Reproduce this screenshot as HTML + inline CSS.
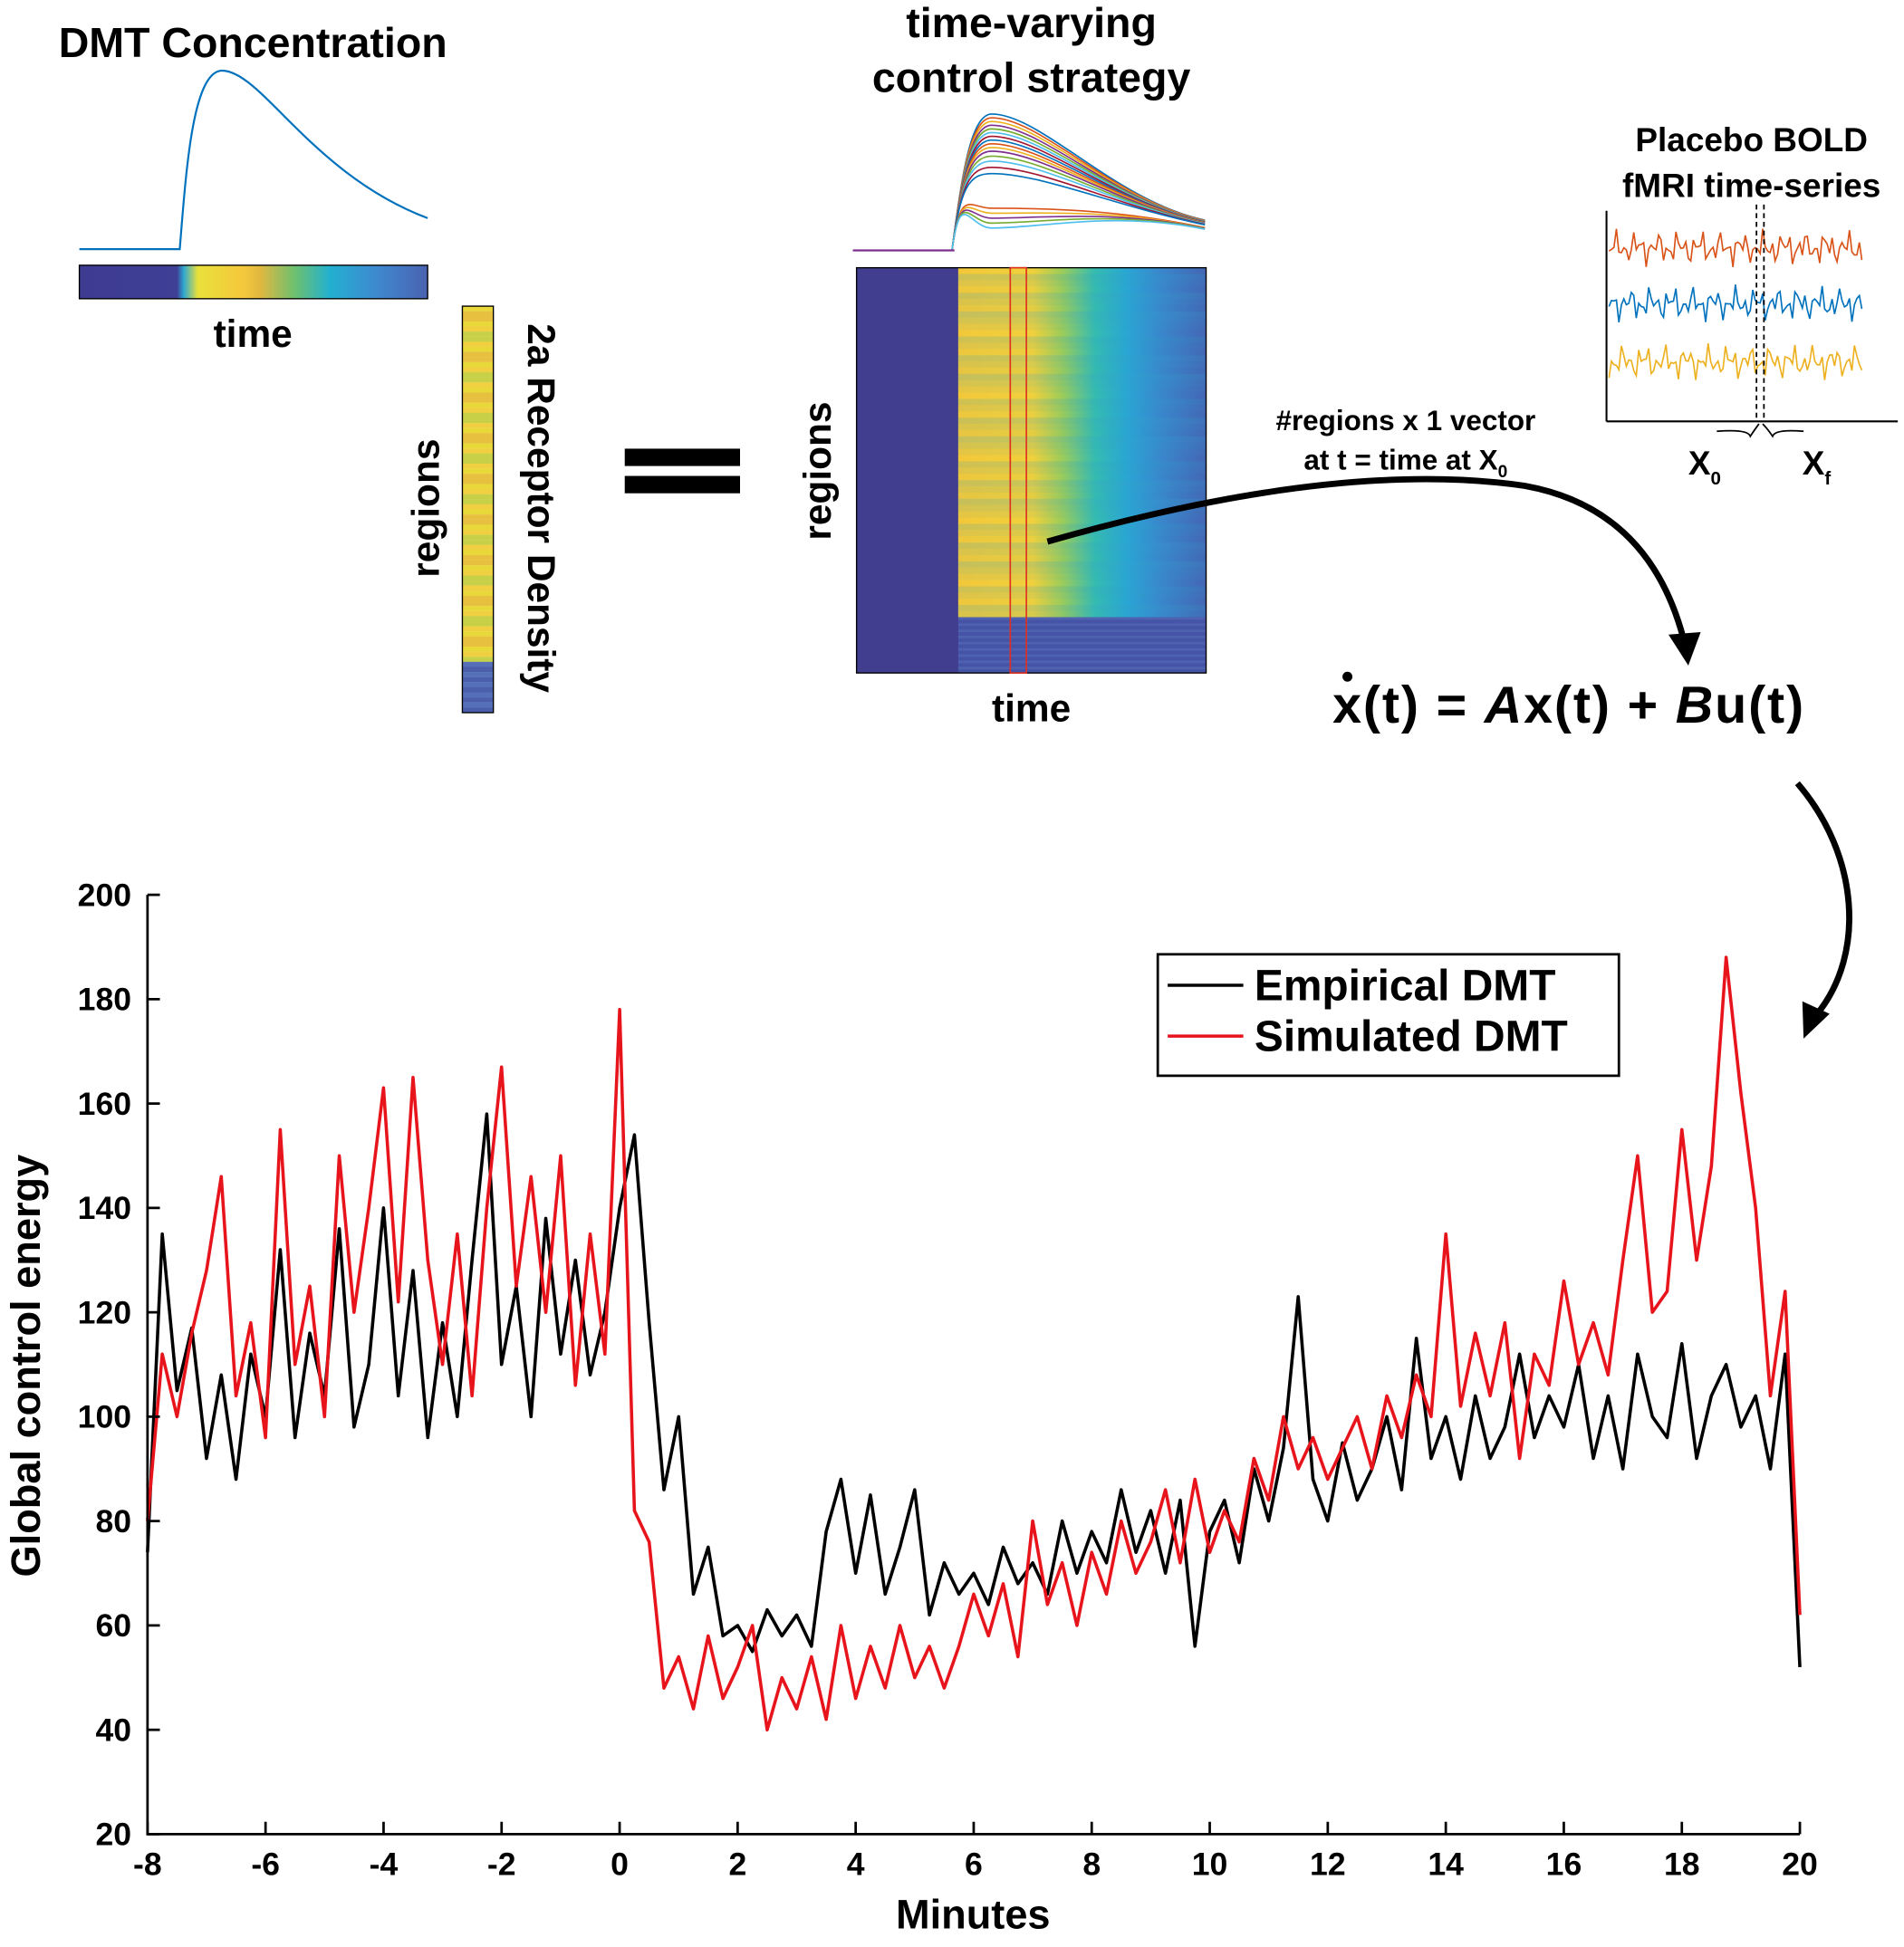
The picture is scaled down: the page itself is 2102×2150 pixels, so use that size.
<!DOCTYPE html>
<html><head><meta charset="utf-8"><style>
html,body{margin:0;padding:0;background:#fff;}
svg{display:block;font-family:"Liberation Sans",Arial,sans-serif;font-weight:bold;}
</style></head><body>
<svg id="fig" width="2102" height="2150" viewBox="0 0 1536 1571" xmlns="http://www.w3.org/2000/svg">
<defs>
<linearGradient id="cbar" x1="0" x2="1" y1="0" y2="0">
<stop offset="0" stop-color="#3e3c92"/><stop offset="0.28" stop-color="#3f3f96"/>
<stop offset="0.3" stop-color="#2fa8d0"/><stop offset="0.34" stop-color="#e8e03a"/>
<stop offset="0.47" stop-color="#f5c83c"/><stop offset="0.52" stop-color="#e0b840"/>
<stop offset="0.62" stop-color="#6cc070"/><stop offset="0.72" stop-color="#22b0d0"/>
<stop offset="0.85" stop-color="#3e8ad0"/><stop offset="1" stop-color="#4a62b0"/>
</linearGradient>
<linearGradient id="hm" x1="0" x2="1" y1="0" y2="0">
<stop offset="0" stop-color="#f2c83a"/><stop offset="0.3" stop-color="#f0d03c"/>
<stop offset="0.42" stop-color="#9ccc5a"/><stop offset="0.55" stop-color="#36bcb0"/>
<stop offset="0.68" stop-color="#2aa6d4"/><stop offset="0.82" stop-color="#3a86cc"/>
<stop offset="1" stop-color="#4466b4"/>
</linearGradient>
</defs>

<text x="204" y="46" font-size="34" text-anchor="middle">DMT Concentration</text>
<path d="M64 201 L145 201 C150 140,155 60,178 57 C210 55,250 140,345 176" fill="none" stroke="#0072bd" stroke-width="1.6"/>
<rect x="64" y="214" width="281" height="27" fill="url(#cbar)" stroke="#000" stroke-width="1"/>
<text x="204" y="280" font-size="31" text-anchor="middle">time</text>

<g id="receptor"></g>
<text transform="translate(354,410) rotate(-90)" font-size="31" text-anchor="middle">regions</text>
<text transform="translate(426,410) rotate(90)" font-size="31" text-anchor="middle">2a Receptor Density</text>

<rect x="504" y="362" width="93" height="14" fill="#000"/>
<rect x="504" y="384" width="93" height="14" fill="#000"/>

<text x="832" y="30" font-size="34" text-anchor="middle">time-varying</text>
<text x="832" y="74" font-size="34" text-anchor="middle">control strategy</text>
<g id="ctrl"></g>
<g id="heat"></g>
<rect x="815" y="216" width="13" height="327" fill="none" stroke="#e03020" stroke-width="1.2"/>
<text transform="translate(670,380) rotate(-90)" font-size="31" text-anchor="middle">regions</text>
<text x="832" y="582" font-size="31" text-anchor="middle">time</text>

<path d="M845 437 Q1080 370 1230 392 Q1330 410 1358 515" fill="none" stroke="#000" stroke-width="5"/>
<path d="M1346 512 L1372 510 L1362 537 Z" fill="#000"/>
<text x="1134" y="347" font-size="23" text-anchor="middle">#regions x 1 vector</text>
<text x="1134" y="379" font-size="23" text-anchor="middle">at t = time at X<tspan font-size="14" dy="6">0</tspan></text>

<text x="1075" y="583" font-size="42" textLength="380" lengthAdjust="spacing">x(t) = <tspan font-style="italic">A</tspan>x(t) + <tspan font-style="italic">B</tspan>u(t)</text>
<circle cx="1087" cy="546" r="4" fill="#000"/>

<path d="M1450 632 C1500 690,1505 770,1466 818" fill="none" stroke="#000" stroke-width="5"/>
<path d="M1454 808 L1476 818 L1455 838 Z" fill="#000"/>

<text x="1413" y="122" font-size="27" text-anchor="middle">Placebo BOLD</text>
<text x="1413" y="159" font-size="27" text-anchor="middle">fMRI time-series</text>
<g id="bold"></g>
<line x1="1296" y1="170" x2="1296" y2="340" stroke="#000" stroke-width="1.5"/>
<line x1="1296" y1="340" x2="1531" y2="340" stroke="#000" stroke-width="1.5"/>
<line x1="1417" y1="165" x2="1417" y2="340" stroke="#000" stroke-width="1.3" stroke-dasharray="4,3"/>
<line x1="1423" y1="165" x2="1423" y2="340" stroke="#000" stroke-width="1.3" stroke-dasharray="4,3"/>
<path d="M1385 348 Q1410 346,1412 352 Q1416 346,1419 342 M1422 342 Q1426 346,1430 352 Q1432 346,1455 348" fill="none" stroke="#000" stroke-width="1.3"/>
<text x="1362" y="383" font-size="27">X<tspan font-size="15" dy="8">0</tspan></text>
<text x="1454" y="383" font-size="27">X<tspan font-size="15" dy="8">f</tspan></text>

<g id="chart"></g>
<text x="785" y="1556" font-size="33" text-anchor="middle">Minutes</text>
<text transform="translate(32,1102) rotate(-90)" font-size="33" text-anchor="middle">Global control energy</text>

<g>
<rect x="934" y="770" width="372" height="98" fill="#fff" stroke="#000" stroke-width="2"/>
<line x1="942" y1="795" x2="1003" y2="795" stroke="#000" stroke-width="2.5"/>
<text x="1012" y="807" font-size="35">Empirical DMT</text>
<line x1="942" y1="836" x2="1003" y2="836" stroke="#e8141c" stroke-width="2.5"/>
<text x="1012" y="848" font-size="35">Simulated DMT</text>
</g>
</svg>
<script>
const yTicks=[20,40,60,80,100,120,140,160,180,200];
const xTicks=[-8,-6,-4,-2,0,2,4,6,8,10,12,14,16,18,20];
const empirical=[74,135,105,117,92,108,88,112,100,132,96,116,104,136,98,110,140,104,128,96,118,100,130,158,110,125,100,138,112,130,108,120,
140,154,118,86,100,66,75,58,60,55,63,58,62,56,78,88,70,85,66,75,86,62,72,66,70,64,75,68,72,66,80,70,78,72,86,74,82,70,84,56,78,84,72,90,80,94,123,88,80,95,84,90,100,86,115,92,100,88,104,92,98,112,96,104,98,110,92,104,90,112,100,96,114,92,104,110,98,104,90,112,52];
const simulated=[80,112,100,116,128,146,104,118,96,155,110,125,100,150,120,140,163,122,165,130,110,135,104,140,167,125,146,120,150,106,135,112,
178,82,76,48,54,44,58,46,52,60,40,50,44,54,42,60,46,56,48,60,50,56,48,56,66,58,68,54,80,64,72,60,74,66,80,70,76,86,72,88,74,82,76,92,84,100,90,96,88,94,100,90,104,96,108,100,135,102,116,104,118,92,112,106,126,110,118,108,130,150,120,124,155,130,148,188,162,140,104,124,62];
const tStart=-8, tStep=0.25;

const NS='http://www.w3.org/2000/svg';
function mk(tag,attrs,parent){const e=document.createElementNS(NS,tag);for(const k in attrs)e.setAttribute(k,attrs[k]);parent.appendChild(e);return e;}
const X0=119,X1=1452,Y0=1480,Y1=722;
const xs=t=>X0+(t+8)/28*(X1-X0);
const ys=v=>Y0-(v-20)/180*(Y0-Y1);
const chart=document.getElementById('chart');
function series(data,color,name){
  const d=data.map((v,i)=>(i?'L':'M')+xs(tStart+i*tStep).toFixed(1)+' '+ys(v).toFixed(1)).join(' ');
  const p=mk('path',{d:d,fill:'none',stroke:color,'stroke-width':2.6,'stroke-linejoin':'round'},chart);
  
  
}
series(empirical,'#000','empirical-line');
series(simulated,'#e8141c','simulated-line');
const ax=mk('path',{d:`M${X0} ${Y1} L${X0} ${Y0} L${X1} ${Y0}`,fill:'none',stroke:'#000','stroke-width':2},chart);


yTicks.forEach(v=>{
  const tk=mk('line',{x1:X0,x2:X0+10,y1:ys(v),y2:ys(v),stroke:'#000','stroke-width':2},chart);
  
  
  const tx=mk('text',{x:106,y:ys(v)+9,'font-size':26,'text-anchor':'end'},chart);tx.textContent=v;
  
  
});
xTicks.forEach(v=>{
  const tk=mk('line',{x1:xs(v),x2:xs(v),y1:Y0,y2:Y0-10,stroke:'#000','stroke-width':2},chart);
  
  
  const tx=mk('text',{x:xs(v),y:1513,'font-size':26,'text-anchor':'middle'},chart);tx.textContent=v;
  
  
});

const rc=document.getElementById('receptor');
const rcols=['#e8d83a','#f2c83c','#c8d048','#9ccc5a','#f0d040','#5cc090','#e8c040','#d8d440'];
for(let i=0;i<80;i++){const y=247+i*4.1;const c=y>=530?((i%2)?'#4a5eac':'#5570b8'):rcols[(i*5+i*i)%rcols.length];
  mk('rect',{x:373,y:y,width:25,height:Math.min(4.2,575-y),fill:c},rc);}
mk('rect',{x:373,y:247,width:25,height:328,fill:'none',stroke:'#000','stroke-width':1},rc);

const ctrl=document.getElementById('ctrl');
const ccols=['#0072bd','#d95319','#edb120','#7e2f8e','#77ac30','#4dbeee','#a2142f'];
const peaks=[92,95,98,101,104,107,110,113,116,119,122,126,130,135,140,168,172,176,180,184];
peaks.forEach((p,i)=>{const end=185-(185-p)*0.08;
  mk('path',{d:`M768 202 C775 150,782 ${p},800 ${p} C840 ${p},900 ${end-15},972 ${end}`,fill:'none',stroke:ccols[i%7],'stroke-width':1.2},ctrl);});
mk('line',{x1:688,y1:202,x2:770,y2:202,stroke:'#7e2f8e','stroke-width':1.6},ctrl);

const hm=document.getElementById('heat');
mk('rect',{x:691,y:216,width:282,height:327,fill:'#413d8f'},hm);
mk('rect',{x:773,y:216,width:200,height:282,fill:'url(#hm)'},hm);
for(let i=0;i<56;i++){const o=((i*37)%10)/40;
  mk('rect',{x:773,y:216+i*5.04,width:200,height:5,fill:'#30a0c8',opacity:o},hm);}
mk('rect',{x:773,y:498,width:200,height:45,fill:'#4654a8'},hm);
for(let i=0;i<9;i++)mk('rect',{x:773,y:498+i*5,width:200,height:2,fill:'#5870b8',opacity:0.5},hm);
mk('rect',{x:691,y:216,width:282,height:327,fill:'none',stroke:'#000','stroke-width':1},hm);

const bold=document.getElementById('bold');
[['#d95319',200],['#0072bd',245],['#edb120',292]].forEach((s,k)=>{
  let d='';for(let x=1298;x<=1502;x+=2){const y=s[1]+7*Math.sin(x*0.9+k)+5*Math.sin(x*0.37+k*2)+4*Math.sin(x*1.7);d+=(d?'L':'M')+x+' '+y.toFixed(1);}
  mk('path',{d:d,fill:'none',stroke:s[0],'stroke-width':1.2},bold);});
</script>
</body></html>
